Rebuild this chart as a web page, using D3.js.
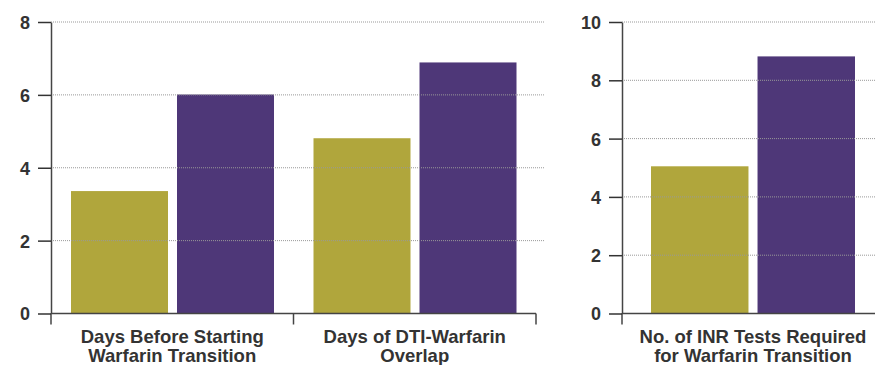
<!DOCTYPE html>
<html lang="en">
<head>
<meta charset="utf-8">
<title>Warfarin transition bars</title>
<script src="https://d3js.org/d3.v7.min.js"></script>
<style>
  body { margin: 0; background: #fff; }
  svg { display: block; font-family: "Liberation Sans", Arial, Helvetica, sans-serif; }
  .tick text { font-size: 18px; font-weight: bold; fill: #333; }
  .cat { font-size: 18.5px; font-weight: bold; fill: #333; }
</style>
</head>
<body>
<svg width="875" height="365"></svg>
<script>
// left panel
var leftCats = [["Days Before Starting", "Warfarin Transition"], ["Days of DTI-Warfarin", "Overlap"]];
var leftA = [3.36, 4.81];
var leftB = [6.01, 6.89];
var leftTicks = [0, 2, 4, 6, 8];

// right panel
var rightCats = [["No. of INR Tests Required", "for Warfarin Transition"]];
var rightA = [5.05];
var rightB = [8.82];
var rightTicks = [0, 2, 4, 6, 8, 10];

var colA = "#b0a63c", colB = "#4e3778";
var svg = d3.select("svg");
var yTop = 22, yBot = 313.5;

function panel(cats, a, b, ticks, x0, x1, gridEnd, innerRange) {
  var g = svg.append("g");
  var keys = cats.map(function(c, i) { return "c" + i; });
  var data = keys.map(function(k, i) { return { key: k, lines: cats[i], vals: [a[i], b[i]] }; });

  var x = d3.scaleBand().domain(keys).range([x0, x1]).padding(0);
  var xs = d3.scaleBand().domain([0, 1]).range(innerRange).paddingInner(0.085).paddingOuter(0);
  var y = d3.scaleLinear().domain([0, d3.max(ticks)]).range([yBot, yTop]);

  // bars
  g.selectAll(".grp").data(data).enter().append("g")
    .attr("transform", function(d) { return "translate(" + x(d.key) + ",0)"; })
    .selectAll("rect").data(function(d) { return d.vals; }).enter().append("rect")
    .attr("x", function(v, i) { return xs(i); })
    .attr("width", xs.bandwidth())
    .attr("y", function(v) { return y(v); })
    .attr("height", function(v) { return y(0) - y(v); })
    .attr("fill", function(v, i) { return i == 0 ? colA : colB; });

  // dotted gridlines drawn over the bars
  g.selectAll(".grid").data(ticks.filter(function(t) { return t > 0; })).enter().append("line")
    .attr("x1", x0).attr("x2", gridEnd)
    .attr("y1", function(t) { return y(t); }).attr("y2", function(t) { return y(t); })
    .attr("stroke", "#999").attr("stroke-width", 1).attr("stroke-dasharray", "1,1");

  // x axis line + separators
  g.append("line").attr("x1", x0).attr("x2", Math.min(x1, 875))
    .attr("y1", y(0)).attr("y2", y(0)).attr("stroke", "#444").attr("stroke-width", 1.5);
  var seps = keys.map(function(k) { return x(k); }).concat([x(keys[keys.length - 1]) + x.bandwidth()]);
  g.selectAll(".sep").data(seps).enter().append("line")
    .attr("x1", function(d) { return d; }).attr("x2", function(d) { return d; })
    .attr("y1", y(0)).attr("y2", y(0) + 11).attr("stroke", "#444").attr("stroke-width", 1.5);

  // y axis
  var ax = g.append("g").attr("transform", "translate(" + x0 + ",0)")
    .call(d3.axisLeft(y).tickValues(ticks).tickSize(13).tickPadding(8).tickSizeOuter(0));
  ax.select(".domain").attr("stroke", "#444").attr("stroke-width", 1.5);
  ax.selectAll(".tick line").attr("stroke", "#333").attr("stroke-width", 1.5);
  ax.selectAll(".tick text").attr("dy", "0.36em");

  // category labels
  var lab = g.selectAll(".cat").data(data).enter().append("text")
    .attr("class", "cat")
    .attr("text-anchor", "middle")
    .attr("x", function(d) { return x(d.key) + x.bandwidth() / 2; })
    .attr("y", 343);
  lab.selectAll("tspan").data(function(d) { return d.lines; }).enter().append("tspan")
    .attr("x", function() { var p = d3.select(this.parentNode).datum(); return x(p.key) + x.bandwidth() / 2; })
    .attr("dy", function(l, i) { return i == 0 ? 0 : 18.5; })
    .text(function(l) { return l; });
}

panel(leftCats, leftA, leftB, leftTicks, 51, 536, 545, [20, 223]);
panel(rightCats, rightA, rightB, rightTicks, 622, 884, 875, [29, 233]);
</script>
</body>
</html>
